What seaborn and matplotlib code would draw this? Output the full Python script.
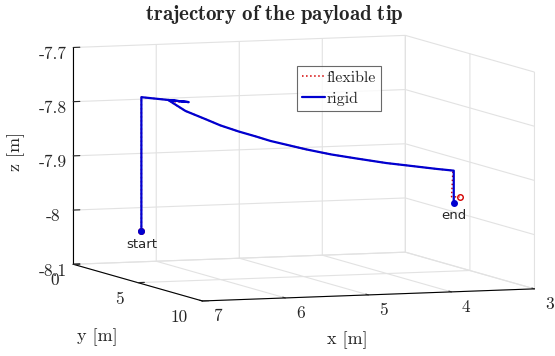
import matplotlib
matplotlib.use('Agg')
import matplotlib.pyplot as plt
import seaborn as sns

sns.set_style('white')
plt.rcParams['font.family'] = ['cmr10']
plt.rcParams['axes.unicode_minus'] = False
plt.rcParams['mathtext.fontset'] = 'cm'
plt.rcParams['grid.color'] = '#e2e2e2'
plt.rcParams['grid.linewidth'] = 0.8

# rigid payload tip trajectory
rigid_x = [6.49, 6.49, 6.17, 6.31, 6.13, 5.92, 5.77, 5.58, 5.40, 5.25, 4.88, 4.62, 4.36, 4.05, 3.84, 3.53, 3.35, 3.35]
rigid_y = [2.00, 2.00, 3.61, 2.92, 3.10, 3.32, 3.48, 3.68, 3.86, 4.03, 4.41, 4.68, 4.95, 5.27, 5.49, 5.82, 6.00, 6.00]
rigid_z = [-8.028, -7.781, -7.781, -7.781, -7.801, -7.816, -7.827, -7.838, -7.847, -7.855, -7.870,
           -7.879, -7.886, -7.894, -7.898, -7.904, -7.907, -7.966]

# flexible payload tip trajectory
flex_x = [6.49, 6.49, 6.17, 6.29, 6.13, 5.92, 5.77, 5.58, 5.40, 5.25, 4.88, 4.62, 4.36, 4.05, 3.84, 3.53, 3.36, 3.376, 3.28]
flex_y = [2.00, 2.00, 3.61, 2.95, 3.10, 3.32, 3.48, 3.68, 3.86, 4.03, 4.41, 4.68, 4.95, 5.27, 5.49, 5.82, 6.00, 6.00, 6.00]
flex_z = [-8.028, -7.781, -7.781, -7.784, -7.801, -7.816, -7.827, -7.838, -7.847, -7.855, -7.870,
          -7.879, -7.886, -7.894, -7.898, -7.904, -7.907, -7.955, -7.956]

x_ticks = [3, 4, 5, 6, 7]
y_ticks = [0, 5, 10]
z_ticks = [-8.1, -8.0, -7.9, -7.8, -7.7]
z_labels = ['-8.1', '-8', '-7.9', '-7.8', '-7.7']

fig = plt.figure(figsize=(5.55, 3.56), dpi=100)
ax = fig.add_axes([0.10, 0.086, 0.88, 0.86], projection='3d', proj_type='ortho')

lines = []
lines += ax.plot(flex_x, flex_y, flex_z, color='#d40000', ls=':', lw=1.1, label='flexible')
lines += ax.plot(rigid_x, rigid_y, rigid_z, color='#0000d0', lw=1.6, label='rigid')
lines += ax.plot([flex_x[0]], [flex_y[0]], [flex_z[0]], 'o', mfc='none', mec='#d40000', ms=4, mew=1)
lines += ax.plot([rigid_x[0]], [rigid_y[0]], [rigid_z[0]], 'o', color='#0000d0', ms=4)
lines += ax.plot([rigid_x[-1]], [rigid_y[-1]], [rigid_z[-1]], 'o', color='#0000d0', ms=4)
lines += ax.plot([flex_x[-1]], [flex_y[-1]], [flex_z[-1]], 'o', mfc='none', mec='#d40000', ms=4, mew=1)
for ln in lines:
    ln.set_clip_on(False)

ax.text(rigid_x[0], rigid_y[0], rigid_z[0] - 0.012, 'start', family='DejaVu Sans',
        fontsize=9.5, ha='center', va='top')
ax.text(rigid_x[-1], rigid_y[-1], rigid_z[-1] - 0.012, 'end', family='DejaVu Sans',
        fontsize=9.5, ha='center', va='top')

ax.set_xlim(3, 7)
ax.set_ylim(0, 10)
ax.set_zlim(-8.1, -7.7)
ax.set_xticks(x_ticks)
ax.set_yticks(y_ticks)
ax.set_zticks(z_ticks)
ax.set_xticklabels([])
ax.set_yticklabels([])
ax.set_zticklabels(z_labels)
ax.tick_params(axis='z', labelsize=12.5, pad=-3)

for xt in x_ticks:
    ax.text(xt, 11.15, -8.121, f'{xt:g}', fontsize=12.5, ha='center', va='center')
for yt in y_ticks:
    ax.text(7.17, yt, -8.129, f'{yt:g}', fontsize=12.5, ha='right', va='center')

for a in (ax.xaxis, ax.yaxis, ax.zaxis):
    a.set_pane_color((1, 1, 1, 0))
    a.line.set_color('black')
    a.line.set_linewidth(0.8)
    a._axinfo['tick']['inward_factor'] = 0.0
    a._axinfo['tick']['outward_factor'] = 0.25

fig.text(347 / 555, 1 - 340 / 356, 'x [m]', fontsize=13, ha='center', va='center')
fig.text(97 / 555, 1 - 337 / 356, 'y [m]', fontsize=13, ha='center', va='center')
fig.text(16 / 555, 1 - 151 / 356, 'z [m]', fontsize=13, ha='center', va='center', rotation=90)

ax.view_init(elev=5.84, azim=70.3)
ax.set_box_aspect((361, 392, 223), zoom=1.79)

fig.text(0.495, 0.96, r'$\mathbf{trajectory\ of\ the\ payload\ tip}$', fontsize=15,
         ha='center', va='center')

leg = ax.legend(handles=lines[:2], loc='upper left', bbox_to_anchor=(297 / 555, 1 - 66 / 356),
                bbox_transform=fig.transFigure,
                fontsize=11.5, frameon=True, fancybox=False, edgecolor='#444444',
                handlelength=1.45, handletextpad=0.1, borderpad=0.3, labelspacing=0.42,
                borderaxespad=0)
leg.get_frame().set_linewidth(0.8)

fig.savefig('out.png', dpi=100)
